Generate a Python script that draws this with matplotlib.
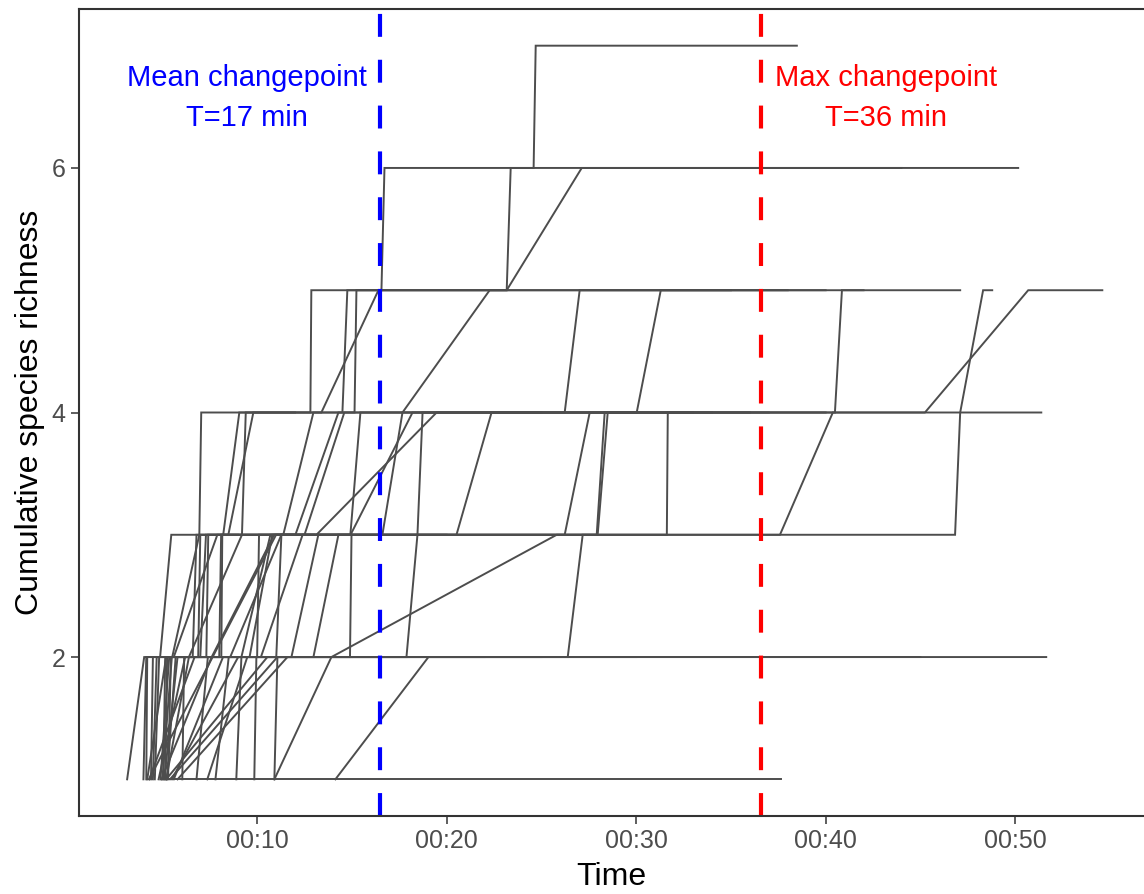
import matplotlib
matplotlib.use("Agg")
import matplotlib.pyplot as plt
from matplotlib.ticker import FuncFormatter

plt.rcParams['font.family'] = ['Liberation Sans', 'DejaVu Sans']

# each series: (minutes since start, cumulative species richness)
s01 = [(3.14, 1), (4.04, 2), (4.88, 2), (5.47, 3), (6.95, 3), (7.05, 4), (12.81, 4), (12.86, 5), (23.17, 5), (23.38, 6), (24.59, 6), (24.70, 7), (38.48, 7)]
s02 = [(4.0, 1), (4.15, 2), (5.52, 2), (6.95, 3), (8.21, 3), (9.06, 4), (13.39, 4), (16.40, 5), (16.56, 5), (16.72, 6), (50.16, 6)]
s03 = [(4.15, 1), (4.2, 2), (6.89, 2), (7.0, 3), (8.48, 3), (9.80, 4), (14.50, 4), (14.76, 5), (23.17, 5), (27.13, 6), (44.0, 6)]
s04 = [(4.6, 1), (4.83, 2), (7.32, 2), (7.42, 3), (11.38, 3), (12.97, 4), (15.14, 4), (15.24, 5), (38.0, 5)]
s05 = [(4.9, 1), (5.36, 2), (8.11, 2), (8.16, 3), (12.02, 3), (14.29, 4), (17.67, 4), (22.27, 5), (40.0, 5)]
s06 = [(5.0, 1), (5.5, 2), (8.58, 2), (11.28, 3), (13.13, 3), (19.47, 4), (26.23, 4), (27.02, 5), (35.0, 5)]
s07 = [(5.1, 1), (5.8, 2), (9.17, 2), (10.70, 3), (14.92, 3), (15.45, 4), (30.03, 4), (31.30, 5), (42.0, 5)]
s08 = [(5.2, 1), (6.4, 2), (9.6, 2), (10.8, 3), (37.59, 3), (40.38, 4), (40.49, 4), (40.86, 5), (47.10, 5)]
s09 = [(4.3, 1), (6.7, 2), (11.01, 2), (11.28, 3), (46.83, 3), (47.10, 4), (48.31, 5), (48.79, 5)]
s10 = [(6.05, 1), (6.15, 2), (11.81, 2), (13.23, 3), (14.93, 3), (18.2, 4), (45.24, 4), (50.69, 5), (54.60, 5)]
s11 = [(6.8, 1), (7.4, 2), (12.97, 2), (14.29, 3), (16.61, 3), (17.67, 4), (51.38, 4)]
s12 = [(7.37, 1), (9.48, 2), (25.0, 2)]
s13 = [(5.2, 1), (10.54, 2), (14.9, 2), (14.98, 3), (18.46, 3), (18.73, 4), (33.0, 4)]
s14 = [(5.4, 1), (11.07, 2), (17.88, 2), (18.46, 3), (20.52, 3), (22.37, 4), (30.0, 4)]
s15 = [(5.8, 1), (11.6, 2), (26.39, 2), (27.18, 3), (27.92, 3), (28.34, 4), (34.0, 4)]
s16 = [(8.9, 1), (9.17, 2), (10.2, 2), (12.4, 3), (27.97, 3), (28.50, 4), (40.0, 4)]
s17 = [(4.5, 1), (4.7, 2), (5.6, 2), (7.9, 3), (12.5, 3), (14.6, 4), (25.0, 4)]
s18 = [(4.8, 1), (6.2, 2), (6.4, 2), (9.2, 3), (31.62, 3), (31.67, 4), (37.0, 4)]
s19 = [(9.85, 1), (9.96, 2), (51.64, 2)]
s20 = [(10.91, 1), (11.07, 2), (30.0, 2)]
s21 = [(10.91, 1), (13.92, 2), (25.81, 3), (26.23, 3), (27.55, 4), (36.0, 4)]
s22 = [(14.13, 1), (19.04, 2), (45.0, 2)]
s23 = [(5.6, 1), (8.2, 2), (22.0, 2)]
s24 = [(5.5, 1), (9.0, 2), (18.0, 2)]
s25 = [(7.8, 1), (8.5, 2), (15.0, 2)]
s26 = [(5.3, 1), (37.64, 1)]
s27 = [(4.4, 1), (4.5, 2), (8.0, 2), (8.1, 3), (20.0, 3)]
s28 = [(5.05, 1), (5.15, 2), (7.0, 2), (7.3, 3), (9.2, 3), (9.4, 4), (12.0, 4)]
s29 = [(5.15, 1), (5.25, 2), (9.0, 2)]
s30 = [(4.2, 1), (5.2, 2), (12.0, 2)]
s31 = [(5.3, 1), (5.45, 2), (10.0, 2), (10.1, 3), (15.0, 3)]
s32 = [(4.3, 1), (11.0, 3), (13.0, 3)]
s33 = [(4.95, 1), (7.6, 2), (10.9, 3), (12.0, 3)]
s34 = [(5.25, 1), (5.7, 2), (6.6, 2), (6.8, 3), (9.0, 3)]

all_series = [s01, s02, s03, s04, s05, s06, s07, s08, s09, s10, s11, s12, s13, s14, s15, s16, s17,
              s18, s19, s20, s21, s22, s23, s24, s25, s26, s27, s28, s29, s30, s31, s32, s33, s34]

mean_cp = 16.5
max_cp = 36.6

fig = plt.figure(figsize=(11.44, 8.94), dpi=100)
ax = fig.add_axes([79 / 1144, 1 - 816 / 894, 1 - 79 / 1144, (816 - 9) / 894])

for s in all_series:
    t = [p[0] for p in s]
    r = [p[1] for p in s]
    ax.plot(t, r, color='#4D4D4D', lw=1.4, solid_joinstyle='miter')

ax.axvline(mean_cp, color='#0000FF', lw=3, dashes=(5.5, 5.5))
ax.axvline(max_cp, color='#FF0000', lw=3, dashes=(5.5, 5.5))

ax.text(9.48, 6.57, 'Mean changepoint\nT=17 min', color='#0000FF', fontsize=21,
        ha='center', va='center', linespacing=1.55)
ax.text(43.18, 6.57, 'Max changepoint\nT=36 min', color='#FF0000', fontsize=21,
        ha='center', va='center', linespacing=1.55)

ax.set_xlim(0.6, 56.8)
ax.set_ylim(0.7, 7.3)
ax.set_xticks([10, 20, 30, 40, 50])
ax.set_yticks([2, 4, 6])
ax.xaxis.set_major_formatter(FuncFormatter(lambda v, pos: f"00:{int(round(v)):02d}"))
ax.tick_params(labelsize=18, labelcolor='#4D4D4D', color='#333333', length=6, width=1.1)
ax.set_xlabel('Time', fontsize=23, labelpad=6)
ax.set_ylabel('Cumulative species richness', fontsize=23, labelpad=5)

for side in ['left', 'bottom', 'top']:
    ax.spines[side].set_color('#333333')
    ax.spines[side].set_linewidth(1.5)
ax.spines['right'].set_visible(False)

fig.savefig('out.png', dpi=100)
